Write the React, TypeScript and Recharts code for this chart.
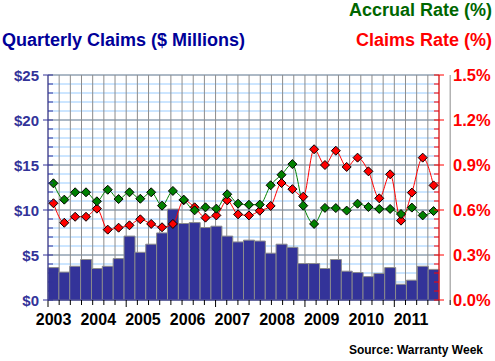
import React from "react";
import {
  ComposedChart,
  Bar,
  Line,
  XAxis,
  YAxis,
  CartesianGrid,
} from "recharts";

const YEARS = [2003, 2004, 2005, 2006, 2007, 2008, 2009, 2010, 2011];
const QUARTERS = YEARS.flatMap((y) => ["Q1", "Q2", "Q3", "Q4"].map((q) => `${y} ${q}`));

// quarterly claims, $ millions
const CLAIMS = [
  3.6, 3.1, 3.75, 4.5, 3.5, 3.75, 4.6, 7.1, 5.3, 6.2, 7.45, 10.1,
  8.5, 8.6, 8.05, 8.2, 7.1, 6.45, 6.65, 6.55, 5.2, 6.2, 5.85, 4.05,
  4.05, 3.5, 4.5, 3.2, 3.05, 2.6, 2.95, 3.6, 1.75, 2.2, 3.75, 3.4,
];

// claims rate, % of sales
const CLAIMS_RATE = [
  0.645, 0.515, 0.555, 0.555, 0.609, 0.469, 0.482, 0.498, 0.538, 0.507, 0.485, 0.507,
  0.665, 0.618, 0.549, 0.564, 0.664, 0.571, 0.564, 0.595, 0.627, 0.78, 0.739, 0.689,
  1.005, 0.9, 0.995, 0.887, 0.949, 0.858, 0.678, 0.838, 0.529, 0.716, 0.949, 0.764,
];

// accrual rate, % of sales
const ACCRUAL_RATE = [
  0.778, 0.669, 0.718, 0.718, 0.658, 0.735, 0.673, 0.718, 0.675, 0.718, 0.629, 0.727,
  0.669, 0.598, 0.618, 0.609, 0.705, 0.642, 0.635, 0.636, 0.765, 0.835, 0.906, 0.629,
  0.507, 0.614, 0.613, 0.596, 0.642, 0.62, 0.607, 0.607, 0.573, 0.616, 0.564, 0.593,
];

const USD_MAJOR = [0, 5, 10, 15, 20, 25];
const USD_TICKS = Array.from({ length: 26 }, (_, i) => i);
const PCT_TICKS = Array.from({ length: 26 }, (_, i) => i * 0.06);
const QTR_LINES = Array.from({ length: 37 }, (_, i) => i);
const X_TICKS = Array.from({ length: 73 }, (_, i) => i / 2);

const data = QUARTERS.map((q, i) => ({
  q,
  claims: CLAIMS[i],
  claimsRate: CLAIMS_RATE[i],
  accrualRate: ACCRUAL_RATE[i],
}));

const FONT = "'Liberation Sans', Arial, sans-serif";
const NAVY = "#333399";
const RED = "#ff0000";
const GREEN = "#008000";

const UsdTick = (props: any) => {
  const { x, y, payload } = props;
  const major = payload.value % 5 === 0;
  return (
    <g>
      <line x1={major ? x - 5 : x} x2={x + 5} y1={y} y2={y} stroke={NAVY} />
      {major && (
        <text x={x - 9} y={y} dy={5.5} textAnchor="end" fill={NAVY}
          fontFamily={FONT} fontWeight="bold" fontSize={15}>
          ${payload.value}
        </text>
      )}
    </g>
  );
};

const PctTick = (props: any) => {
  const { x, y, payload } = props;
  const major = Math.round(payload.value * 100) % 30 === 0;
  return (
    <g>
      <line x1={x - 5} x2={major ? x + 5 : x} y1={y} y2={y} stroke={RED} />
      {major && (
        <text x={x + 14} y={y} dy={6} textAnchor="start" fill={RED}
          fontFamily={FONT} fontWeight="bold" fontSize={16.5}>
          {payload.value.toFixed(1)}%
        </text>
      )}
    </g>
  );
};

const QuarterTick = (props: any) => {
  const { x, y, payload } = props;
  const v = payload.value;
  if (Number.isInteger(v)) {
    const long = v === 0 || (v + 1) % 8 === 0;
    return <line x1={x} x2={x} y1={y} y2={y + (long ? 7 : 5)} stroke="#000" />;
  }
  const k = (v - 0.5) / 4;
  if (Number.isInteger(k) && k < YEARS.length) {
    return (
      <text x={x} y={y} dy={25} textAnchor="middle" fill="#000"
        fontFamily={FONT} fontWeight="bold" fontSize={16}>
        {YEARS[k]}
      </text>
    );
  }
  return <g />;
};

const diamond = (fill: string) => (props: any) => {
  const { cx, cy, index } = props;
  const r = 4.5;
  return (
    <polygon
      key={`d-${fill}-${index}`}
      points={`${cx},${cy - r} ${cx + r},${cy} ${cx},${cy + r} ${cx - r},${cy}`}
      fill={fill}
      stroke="#000"
      strokeWidth={1}
    />
  );
};

export default function App() {
  return (
    <div style={{ position: "absolute", left: 0, top: 0, width: 495, height: 361, background: "#fff" }}>
      <ComposedChart
        width={495}
        height={361}
        data={data}
        margin={{ top: 75, right: 0, bottom: 21, left: 0 }}
        barCategoryGap={0}
        barGap={0}
      >
        <CartesianGrid yAxisId="usd" xAxisId="t" horizontalValues={USD_TICKS}
          vertical={false} stroke="#99ccff" />
        <CartesianGrid yAxisId="usd" xAxisId="t" horizontalValues={USD_MAJOR}
          verticalValues={QTR_LINES} stroke="#8c8c8c" />
        <XAxis xAxisId="t" type="number" domain={[0, 36]} allowDataOverflow
          ticks={X_TICKS} interval={0} tick={<QuarterTick />} tickLine={false}
          tickSize={0} tickMargin={0} height={40} axisLine={{ stroke: NAVY }} />
        <XAxis xAxisId="q" dataKey="q" type="category" hide height={0} />
        <YAxis yAxisId="usd" orientation="left" width={48} domain={[0, 25]}
          ticks={USD_TICKS} interval={0} tick={<UsdTick />} tickLine={false}
          tickSize={0} tickMargin={0} axisLine={{ stroke: NAVY }} />
        <YAxis yAxisId="pct" orientation="right" width={56} domain={[0, 1.5]}
          ticks={PCT_TICKS} interval={0} tick={<PctTick />} tickLine={false}
          tickSize={0} tickMargin={0} axisLine={{ stroke: RED }} />
        <Bar xAxisId="q" yAxisId="usd" dataKey="claims" fill={NAVY}
          stroke="#8c8c8c" strokeWidth={1} isAnimationActive={false} />
        <Line xAxisId="q" yAxisId="pct" dataKey="claimsRate" type="monotone"
          stroke={RED} strokeWidth={1} dot={diamond(RED)} activeDot={false}
          isAnimationActive={false} />
        <Line xAxisId="q" yAxisId="pct" dataKey="accrualRate" type="monotone"
          stroke={GREEN} strokeWidth={1} dot={diamond(GREEN)} activeDot={false}
          isAnimationActive={false} />
      </ComposedChart>
      <svg width={495} height={361} style={{ position: "absolute", left: 0, top: 0, pointerEvents: "none" }}>
        <g fontFamily={FONT} fontWeight="bold">
          <text x={492} y={16} textAnchor="end" fontSize={18} fill="#006600">Accrual Rate (%)</text>
          <text x={2} y={46} fontSize={18} fill="#000099">Quarterly Claims ($ Millions)</text>
          <text x={492} y={46} textAnchor="end" fontSize={18} fill={RED}>Claims Rate (%)</text>
          <text x={483} y={354} textAnchor="end" fontSize={12} fill="#000">Source: Warranty Week</text>
        </g>
      </svg>
    </div>
  );
}
